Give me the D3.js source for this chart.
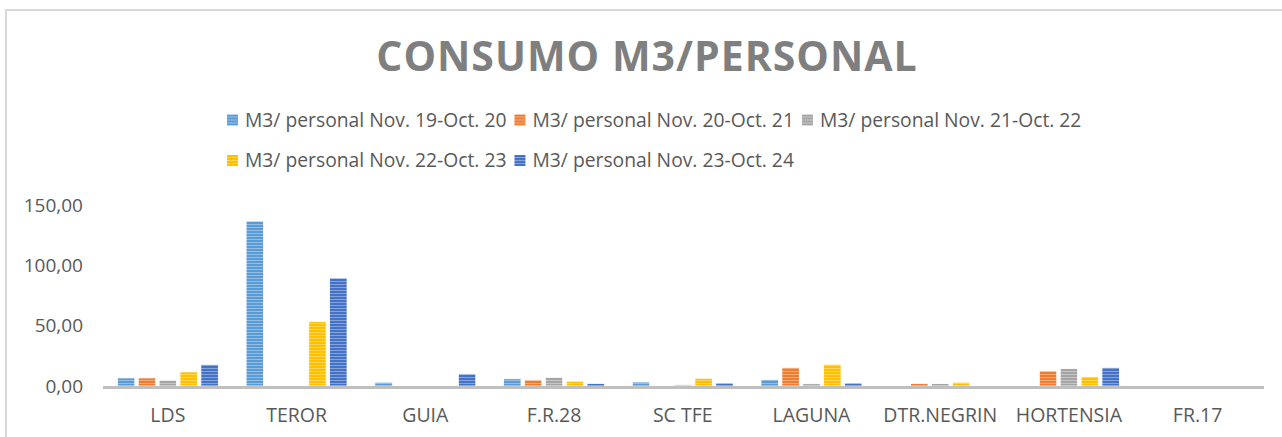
<!DOCTYPE html>
<html>
<head>
<meta charset="utf-8">
<script src="https://cdn.jsdelivr.net/npm/d3@7"></script>
<style>
  body { margin: 0; background: #fff; }
  svg { display: block; font-family: "Open Sans", sans-serif; }
</style>
</head>
<body>
<svg width="1282" height="437"></svg>
<script>
var categories = ["LDS", "TEROR", "GUIA", "F.R.28", "SC TFE", "LAGUNA", "DTR.NEGRIN", "HORTENSIA", "FR.17"];
var seriesNames = [
  "M3/ personal Nov. 19-Oct. 20",
  "M3/ personal Nov. 20-Oct. 21",
  "M3/ personal Nov. 21-Oct. 22",
  "M3/ personal Nov. 22-Oct. 23",
  "M3/ personal Nov. 23-Oct. 24"
];
var s1920 = [6.7, 136.7, 3.1, 6.0, 3.3, 5.3, 0, 0, 0];
var s2021 = [6.7, 0, 0, 5.0, 0, 15.3, 2.0, 12.5, 0];
var s2122 = [4.8, 0, 0, 7.2, 1.0, 1.9, 2.0, 14.5, 0];
var s2223 = [11.7, 53.3, 0, 4.0, 6.4, 18.0, 3.1, 7.8, 0];
var s2324 = [17.8, 89.5, 10.0, 2.2, 2.5, 2.5, 0, 15.3, 0];
var yTicks = [0, 50, 100, 150];
var colors = ["#5B9BD5", "#ED7D31", "#A5A5A5", "#FFC000", "#4472C4"];

var allSeries = [s1920, s2021, s2122, s2223, s2324];

var svg = d3.select("svg"),
  width = +svg.attr("width"),
  height = +svg.attr("height");

// chart frame (right/bottom edges fall outside the window)
svg.append("rect")
  .attr("x", 6).attr("y", 10)
  .attr("width", width + 20).attr("height", height + 20)
  .attr("fill", "#fff").attr("stroke", "#d9d9d9").attr("stroke-width", 2);

// striped fills, one per series
var defs = svg.append("defs");
colors.forEach(function(c, i) {
  var p = defs.append("pattern")
    .attr("id", "stripe" + i)
    .attr("patternUnits", "userSpaceOnUse")
    .attr("width", 4).attr("height", 3);
  p.append("rect").attr("width", 4).attr("height", 3).attr("fill", c);
  p.append("rect").attr("y", 2).attr("width", 4).attr("height", 1)
    .attr("fill", d3.interpolateRgb(c, "#fff")(0.35));
});

var x0 = d3.scaleBand().domain(categories).range([103.5, 1262])
  .paddingInner(0.2157).paddingOuter(0.2157 / 2);
var x1 = d3.scaleBand().domain(d3.range(5)).range([0, x0.bandwidth()])
  .paddingInner(0.164);
var y = d3.scaleLinear().domain([0, 150]).range([386, 205]);

// title
svg.append("text")
  .attr("x", 647).attr("y", 71)
  .attr("text-anchor", "middle")
  .attr("font-size", 41).attr("font-weight", "bold")
  .attr("letter-spacing", 1)
  .attr("fill", "#7f7f7f")
  .text("CONSUMO M3/PERSONAL");

// legend: 3 items on first row, 2 on second, rows left-aligned
var legend = svg.append("g").attr("class", "legend");
var rows = [[0, 1, 2], [3, 4]];
var rowY = [126.5, 167];
rows.forEach(function(r, ri) {
  var xx = 227;
  r.forEach(function(si) {
    var g = legend.append("g").attr("transform", "translate(" + xx + "," + rowY[ri] + ")");
    g.append("rect").attr("x", 0).attr("y", -12).attr("width", 11).attr("height", 11)
      .attr("fill", "url(#stripe" + si + ")");
    var t = g.append("text").attr("x", 18).attr("y", 0)
      .attr("font-size", 19.3)
      .attr("fill", "#595959").text(seriesNames[si]);
    xx += 18 + t.node().getComputedTextLength() + 8;
  });
});

// y axis labels (no axis line, no gridlines)
var yAxis = d3.axisLeft(y).tickValues(yTicks).tickSize(0).tickPadding(0)
  .tickFormat(function(d) { return d3.format(".2f")(d).replace(".", ","); });
svg.append("g").attr("transform", "translate(83,0)").call(yAxis)
  .call(function(g) { g.select(".domain").remove(); })
  .selectAll("text")
  .attr("font-size", 19).attr("fill", "#595959")
  .attr("font-family", "Open Sans, sans-serif");

// bars
var groups = svg.append("g").selectAll("g")
  .data(categories)
  .join("g")
  .attr("transform", function(d) { return "translate(" + x0(d) + ",0)"; });

groups.selectAll("rect")
  .data(function(d, ci) {
    return allSeries.map(function(s, si) { return { s: si, v: s[ci] }; });
  })
  .join("rect")
  .filter(function(d) { return d.v > 0; })
  .attr("x", function(d) { return x1(d.s); })
  .attr("y", function(d) { return y(d.v); })
  .attr("width", x1.bandwidth())
  .attr("height", function(d) { return y(0) - y(d.v); })
  .attr("fill", function(d) { return "url(#stripe" + d.s + ")"; })
  .attr("stroke", "#fff").attr("stroke-width", 0.8);

// category axis
var xAxis = d3.axisBottom(x0).tickSize(0).tickPadding(0);
var xg = svg.append("g").attr("transform", "translate(0,387.5)").call(xAxis);
xg.select(".domain")
  .attr("d", "M103,0H1264")
  .attr("stroke", "#bfbfbf").attr("stroke-width", 3);
xg.selectAll("text")
  .attr("y", 0).attr("dy", 34)
  .attr("font-size", 19.5).attr("fill", "#595959")
  .attr("font-family", "Open Sans, sans-serif");
</script>
</body>
</html>
